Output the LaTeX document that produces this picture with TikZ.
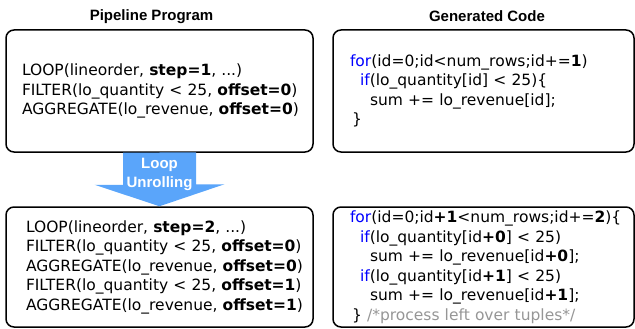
\documentclass[tikz,border=0pt]{standalone}
\usepackage{fontspec}
\setmainfont{DejaVu Sans}
\newfontfamily\headfont{Liberation Sans}
\usetikzlibrary{calc}
\definecolor{loopblue}{RGB}{90,165,250}
\definecolor{kwblue}{RGB}{0,0,255}
\definecolor{cmtgray}{RGB}{150,150,150}
\newcommand{\kw}[1]{\textcolor{kwblue}{#1}}

\begin{document}
\begin{tikzpicture} [x=1pt, y=-1pt, align=left,
  progbox/.style={draw, line width=1.5pt, rounded corners=8pt, inner ysep=0pt,
                  font=\fontsize{15.5}{19.5}\selectfont,
                  execute at begin node={\hyphenpenalty=10000 \hbadness=10000 \hfuzz=50pt}},
  headline/.style={font=\headfont\bfseries\fontsize{15}{18}\selectfont, anchor=base}]
\useasboundingbox (0,0) rectangle (635,329);

\path (151.5, 21) node[headline] (t1) {Pipeline Program}
      (487, 22) node[headline] (t2) {Generated Code}
      (159.5, 91) node[progbox, minimum width=307pt, minimum height=122pt, inner xsep=16pt, text width=275pt] (pipe)
        {LOOP(lineorder,~\textbf{step=1},~...)\\
         FILTER(lo\_quantity~<~25,~\textbf{offset=0})\\
         AGGREGATE(lo\_revenue,~\textbf{offset=0})}
      (483.5, 91) node[progbox, minimum width=301pt, minimum height=122pt, inner xsep=17pt, text width=267pt] (code)
        {\kw{for}(id=0;id<num\_rows;id+=\textbf{1})\\
         \hspace*{10pt}\kw{if}(lo\_quantity[id]~<~25)\{\\
         \hspace*{20pt}sum~+=~lo\_revenue[id];\\
         \hspace*{2pt}\}}
      (159.5, 267) node[progbox, minimum width=307pt, minimum height=120pt, inner xsep=20pt, text width=267pt] (pipeU)
        {LOOP(lineorder,~\textbf{step=2},~...)\\
         FILTER(lo\_quantity~<~25,~\textbf{offset=0})\\
         AGGREGATE(lo\_revenue,~\textbf{offset=0})\\
         FILTER(lo\_quantity~<~25,~\textbf{offset=1})\\
         AGGREGATE(lo\_revenue,~\textbf{offset=1})}
      (483.5, 267) node[progbox, minimum width=301pt, minimum height=120pt, inner xsep=17pt, text width=267pt] (codeU)
        {\kw{for}(id=0;id\textbf{+1}<num\_rows;id+=\textbf{2})\{\\
         \hspace*{10pt}\kw{if}(lo\_quantity[id\textbf{+0}]~<~25)\\
         \hspace*{20pt}sum~+=~lo\_revenue[id\textbf{+0}];\\
         \hspace*{10pt}\kw{if}(lo\_quantity[id\textbf{+1}]~<~25)\\
         \hspace*{20pt}sum~+=~lo\_revenue[id\textbf{+1}];\\
         \hspace*{2pt}\}~\textcolor{cmtgray}{/*process~left~over~tuples*/}};

% unrolling arrow
\fill[loopblue] ($(pipe.south)+(-36.5,0)$) -- ++(0,32) -- ++(-28.5,0) -- (pipeU.north)
      -- ++(65,-22) -- ++(-28.5,0) -- ++(0,-32) -- cycle;
\node[font=\headfont\bfseries\fontsize{15}{19}\selectfont, text=white, align=center]
      (unroll) at ($(pipe.south)+(0,22)$) {Loop\\Unrolling};
\end{tikzpicture}
\end{document}
